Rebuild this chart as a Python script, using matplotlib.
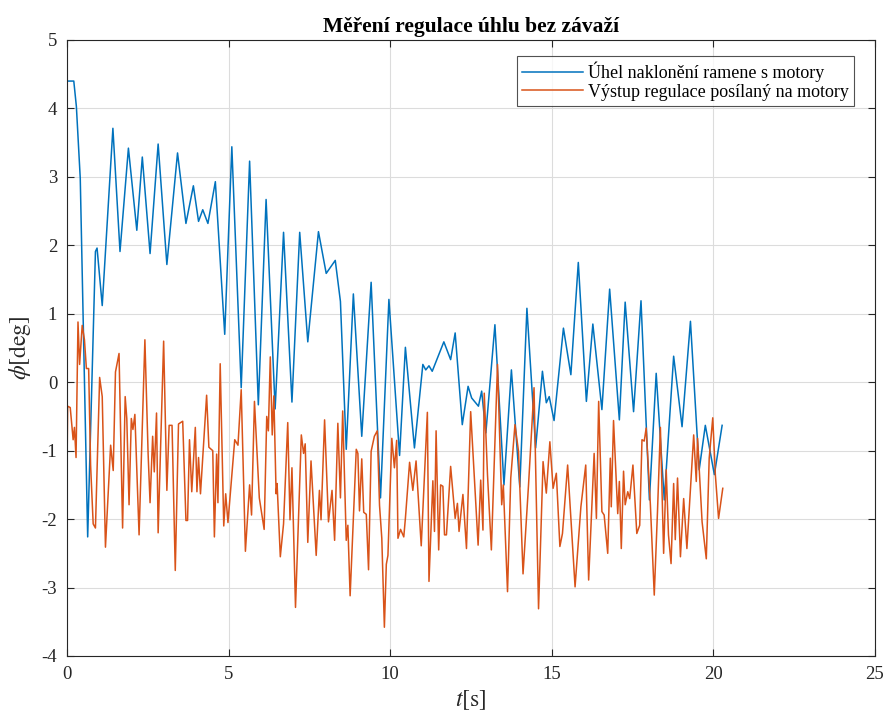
import matplotlib
matplotlib.use("Agg")
import matplotlib.pyplot as plt

# ---- data ----
t_angle = [0, 0.21, 0.29, 0.41, 0.64, 0.88, 0.93, 1.09, 1.42, 1.64, 1.90, 2.16, 2.33, 2.57,
           2.82, 3.09, 3.42, 3.68, 3.91, 4.07, 4.20, 4.36, 4.59, 4.88, 5.10, 5.39, 5.65,
           5.92, 6.16, 6.44, 6.70, 6.96, 7.20, 7.45, 7.78, 8.02, 8.30, 8.46, 8.64, 8.86,
           9.12, 9.41, 9.70, 9.96, 10.29, 10.47, 10.75, 11.01, 11.10, 11.20, 11.30, 11.66,
           11.87, 12.01, 12.23, 12.41, 12.52, 12.73, 12.83, 12.96, 13.24, 13.52, 13.75,
           14.01, 14.23, 14.50, 14.71, 14.83, 14.92, 15.07, 15.36, 15.59, 15.82, 16.07,
           16.27, 16.55, 16.79, 17.09, 17.27, 17.53, 17.76, 18.02, 18.23, 18.48, 18.77,
           19.03, 19.29, 19.56, 19.75, 20.03, 20.27]
angle = [4.40, 4.40, 4.03, 2.98, -2.26, 1.91, 1.96, 1.12, 3.71, 1.91, 3.42, 2.22, 3.29, 1.88,
         3.48, 1.72, 3.35, 2.32, 2.87, 2.35, 2.52, 2.32, 2.93, 0.70, 3.44, -0.08, 3.23,
         -0.33, 2.67, -0.39, 2.19, -0.29, 2.19, 0.59, 2.20, 1.59, 1.78, 1.18, -0.98, 1.29,
         -0.79, 1.46, -1.69, 1.21, -1.07, 0.51, -0.96, 0.26, 0.18, 0.24, 0.16, 0.59,
         0.33, 0.72, -0.62, -0.06, -0.23, -0.35, -0.13, -0.74, 0.84, -1.50, 0.18,
         -1.53, 1.08, -0.96, 0.16, -0.30, -0.21, -0.56, 0.79, 0.11, 1.75, -0.28,
         0.85, -0.40, 1.36, -0.55, 1.17, -0.43, 1.19, -1.72, 0.13, -1.72, 0.38,
         -0.65, 0.89, -1.28, -0.63, -1.35, -0.63]

t_ctrl = [0.00, 0.02, 0.10, 0.19, 0.23, 0.28, 0.34, 0.39, 0.47, 0.54, 0.60, 0.67, 0.73, 0.81,
          0.88, 1.01, 1.09, 1.19, 1.35, 1.43, 1.50, 1.61, 1.72, 1.80, 1.85, 1.92, 1.99,
          2.04, 2.10, 2.23, 2.41, 2.51, 2.57, 2.65, 2.70, 2.77, 2.82, 2.99, 3.09, 3.16,
          3.25, 3.35, 3.45, 3.58, 3.68, 3.73, 3.79, 3.86, 3.97, 4.02, 4.07, 4.13, 4.32,
          4.39, 4.51, 4.56, 4.63, 4.67, 4.74, 4.85, 4.91, 4.98, 5.19, 5.29, 5.39, 5.52,
          5.65, 5.71, 5.80, 5.95, 6.10, 6.18, 6.23, 6.29, 6.35, 6.40, 6.47, 6.50, 6.60,
          6.70, 6.83, 6.90, 6.96, 7.07, 7.25, 7.32, 7.37, 7.45, 7.55, 7.71, 7.81, 7.86,
          7.97, 8.09, 8.20, 8.28, 8.38, 8.46, 8.53, 8.64, 8.69, 8.76, 8.95, 9.00, 9.05,
          9.12, 9.18, 9.26, 9.33, 9.41, 9.51, 9.60, 9.67, 9.74, 9.82, 9.88, 9.93, 10.05,
          10.13, 10.20, 10.24, 10.32, 10.42, 10.47, 10.60, 10.70, 10.80, 10.96, 11.15,
          11.20, 11.32, 11.37, 11.42, 11.50, 11.56, 11.63, 11.68, 11.74, 11.87, 12.01,
          12.08, 12.13, 12.25, 12.36, 12.49, 12.60, 12.72, 12.80, 12.87, 12.91, 13.01,
          13.13, 13.32, 13.45, 13.50, 13.63, 13.73, 13.86, 13.97, 14.11, 14.28, 14.45,
          14.59, 14.73, 14.83, 14.94, 15.04, 15.14, 15.25, 15.33, 15.49, 15.72, 15.90,
          16.05, 16.14, 16.31, 16.38, 16.45, 16.55, 16.62, 16.73, 16.81, 16.84, 16.91,
          17.04, 17.09, 17.15, 17.22, 17.27, 17.35, 17.41, 17.51, 17.63, 17.72, 17.79,
          17.86, 17.92, 18.05, 18.17, 18.27, 18.36, 18.46, 18.54, 18.61, 18.69, 18.77,
          18.82, 18.89, 18.98, 19.08, 19.18, 19.39, 19.47, 19.51, 19.65, 19.78, 19.87,
          19.98, 20.06, 20.16, 20.29]
ctrl = [-1.26, -0.35, -0.37, -0.84, -0.66, -1.10, 0.88, 0.26, 0.83, 0.62, 0.20, 0.20, -1.21,
        -2.07, -2.13, 0.07, -0.21, -2.41, -0.92, -1.29, 0.15, 0.42, -2.13, -0.21, -0.53,
        -1.79, -0.53, -0.69, -0.47, -2.23, 0.62, -1.05, -1.76, -0.79, -1.31, -0.45, -2.20,
        0.60, -1.58, -0.63, -0.63, -2.75, -0.61, -0.57, -2.02, -2.02, -0.84, -1.60, -0.66,
        -1.60, -1.10, -1.63, -0.19, -0.95, -1.00, -2.26, -1.05, -1.76, 0.27, -2.10, -1.63,
        -2.05, -0.84, -0.92, -0.11, -2.47, -1.50, -1.94, -0.28, -1.69, -2.15, -0.50, -0.71,
        0.37, -0.77, -0.20, -1.63, -1.48, -2.55, -2.07, -0.59, -2.01, -1.25, -3.29, -0.77,
        -1.04, -0.90, -2.34, -1.15, -2.53, -1.58, -2.01, -0.55, -2.04, -1.58, -2.31, -0.60,
        -1.69, -0.42, -2.31, -2.09, -3.12, -0.98, -1.04, -1.88, -1.12, -1.90, -1.93, -2.74,
        -1.01, -0.79, -0.71, -1.80, -2.28, -3.58, -2.66, -2.53, -0.82, -1.25, -0.85, -2.28,
        -2.15, -2.26, -1.99, -1.17, -1.58, -1.15, -2.39, -0.44, -2.91, -1.44, -2.18, -0.71,
        -2.45, -1.50, -1.52, -2.23, -2.23, -1.23, -1.99, -1.77, -2.18, -1.64, -2.43, -0.43,
        -1.35, -2.38, -1.43, -2.16, -0.16, -1.35, -2.45, 0.26, -1.79, -1.50, -3.06, -1.40,
        -0.62, -1.01, -2.80, -1.50, -0.08, -3.31, -1.16, -1.62, -0.87, -1.55, -1.33, -2.40,
        -2.21, -1.21, -2.99, -1.82, -1.21, -2.89, -1.04, -1.99, -0.28, -1.89, -1.94, -2.50,
        -1.11, -1.82, -0.56, -1.92, -1.45, -2.43, -1.30, -1.79, -1.60, -1.70, -1.21, -2.21,
        -2.09, -0.84, -0.86, -0.67, -1.79, -3.11, -1.89, -0.66, -2.50, -1.28, -2.23, -2.65,
        -1.48, -2.30, -1.40, -2.55, -1.70, -2.43, -0.77, -1.45, -0.82, -2.04, -2.58, -1.11,
        -0.52, -1.35, -1.99, -1.55]

x_ticks = [0, 5, 10, 15, 20, 25]
y_ticks = [-4, -3, -2, -1, 0, 1, 2, 3, 4, 5]
title = "Měření regulace úhlu bez závaží"
label_angle = "Úhel naklonění ramene s motory"
label_ctrl = "Výstup regulace posílaný na motory"

plt.rcParams['font.family'] = ['Liberation Serif', 'DejaVu Serif']
plt.rcParams['mathtext.fontset'] = 'stix'
plt.rcParams['axes.unicode_minus'] = False

fig = plt.figure(figsize=(8.83, 7.11), dpi=100)
ax = fig.add_axes([67/883, 55/711, 808/883, 616/711])

ax.plot(t_angle, angle, color='#0072BD', lw=1.1, label=label_angle)
ax.plot(t_ctrl, ctrl, color='#D95319', lw=1.1, label=label_ctrl)

ax.set_xlim(0, 25)
ax.set_ylim(-4, 5)
ax.set_xticks(x_ticks)
ax.set_yticks(y_ticks)
ax.grid(True, color='#dcdcdc', lw=0.8)
ax.set_axisbelow(True)
ax.tick_params(direction='in', top=True, right=True, labelsize=13.5,
               colors='#262626', length=5, width=0.8, pad=7)
for s in ax.spines.values():
    s.set_color('#262626')
    s.set_linewidth(0.8)

ax.set_title(title, fontsize=15.5, fontweight='bold', pad=6)
ax.set_xlabel(r'$t[\mathrm{s}]$', fontsize=17, labelpad=4, color='#262626')
ax.set_ylabel(r'$\phi[\mathrm{deg}]$', fontsize=17, labelpad=6, color='#262626')

leg = ax.legend(loc='upper right', bbox_to_anchor=((854 - 67) / 808, (656 - 56) / 616),
                fontsize=13, frameon=True, fancybox=False,
                edgecolor='#262626', borderpad=0.3, handlelength=3.35,
                handletextpad=0.28, labelspacing=0.1, borderaxespad=0.0)
leg.get_frame().set_linewidth(0.8)

fig.savefig('out.png', dpi=100)
